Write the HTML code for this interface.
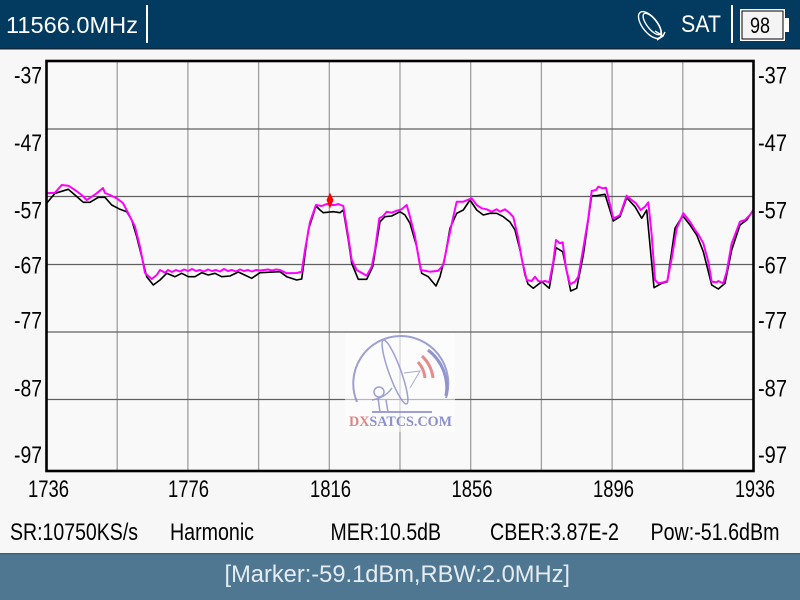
<!DOCTYPE html>
<html><head><meta charset="utf-8"><style>
html,body{margin:0;padding:0;background:#f7f7f7;}
svg{display:block;}
text{font-family:"Liberation Sans",sans-serif;}
</style></head><body>
<svg width="800" height="600" viewBox="0 0 800 600" xmlns="http://www.w3.org/2000/svg">
<rect x="0" y="0" width="800" height="600" fill="#f7f7f7"/>
<!-- header -->
<rect x="0" y="0" width="800" height="49" fill="#023a60"/>
<rect x="0" y="48" width="800" height="1.5" fill="#0d2438"/>
<text x="6" y="33" font-size="23" fill="#ffffff" textLength="132" lengthAdjust="spacingAndGlyphs">11566.0MHz</text>
<rect x="146" y="5" width="2" height="38" fill="#ffffff"/>
<!-- dish icon -->
<g fill="none" stroke="#ffffff" stroke-width="1.4">
<ellipse cx="650" cy="25" rx="7.5" ry="16" transform="rotate(-38 650 25)"/>
<ellipse cx="652" cy="24" rx="5" ry="13" transform="rotate(-38 652 24)"/>
<path d="M655 31 L663 36 L665 32 M663 36 L657 40"/>
</g>
<text x="681" y="32" font-size="24" fill="#ffffff" textLength="40" lengthAdjust="spacingAndGlyphs">SAT</text>
<rect x="731" y="5" width="2" height="38" fill="#ffffff"/>
<rect x="740" y="9" width="45" height="32" fill="#ffffff"/>
<rect x="742" y="11" width="41" height="28" fill="#f4f4f4" stroke="#000" stroke-width="1"/>
<rect x="785" y="18" width="4" height="14" fill="#ffffff"/>
<text x="750" y="33" font-size="22" fill="#000" textLength="20" lengthAdjust="spacingAndGlyphs">98</text>

<!-- plot -->
<rect x="46.5" y="61" width="707" height="410" fill="#f9f9f9"/>
<g stroke="#a0a0a0" stroke-width="1.3">
<line x1="117.2" y1="61" x2="117.2" y2="471"/>
<line x1="187.9" y1="61" x2="187.9" y2="471"/>
<line x1="258.6" y1="61" x2="258.6" y2="471"/>
<line x1="329.3" y1="61" x2="329.3" y2="471"/>
<line x1="400" y1="61" x2="400" y2="471"/>
<line x1="470.7" y1="61" x2="470.7" y2="471"/>
<line x1="541.4" y1="61" x2="541.4" y2="471"/>
<line x1="612.1" y1="61" x2="612.1" y2="471"/>
<line x1="682.8" y1="61" x2="682.8" y2="471"/>
</g>
<g stroke="#606060" stroke-width="1.2">
<line x1="46.5" y1="129" x2="753.5" y2="129"/>
<line x1="46.5" y1="196.5" x2="753.5" y2="196.5"/>
<line x1="46.5" y1="264.5" x2="753.5" y2="264.5"/>
<line x1="46.5" y1="332" x2="753.5" y2="332"/>
<line x1="46.5" y1="399.5" x2="753.5" y2="399.5"/>
</g>

<!-- watermark -->
<rect x="345" y="333" width="110" height="99" fill="#ffffff" opacity="0.55"/>
<g fill="none" opacity="0.85">
<path d="M357 402 A47.5 47.5 0 1 1 446 398" stroke="#8c90cc" stroke-width="2"/>
<path d="M428 350 A47.5 47.5 0 0 1 446 396" stroke="#7d82c8" stroke-width="3"/>
<path d="M422 356 A36 36 0 0 1 433 378" stroke="#e07878" stroke-width="3"/>
<path d="M418 362 A28 28 0 0 1 425 378" stroke="#e07878" stroke-width="3"/>
<line x1="372" y1="412" x2="432" y2="412" stroke="#8c90cc" stroke-width="2"/>
<ellipse cx="395" cy="372" rx="6" ry="34" transform="rotate(-20 395 372)" stroke="#8c90cc" stroke-width="1.5"/>
<path d="M404 373 L420 371 L410 388" stroke="#9a9ec8" stroke-width="1"/>
<circle cx="379" cy="392" r="5" stroke="#8c90cc" stroke-width="1.5"/>
<path d="M372 400 Q385 398 392 388 M378 398 L380 412 M386 400 L388 412" stroke="#8c90cc" stroke-width="1.5"/>
</g>
<text x="349" y="426" style="font-family:'Liberation Serif',serif;font-weight:bold;font-size:15px" textLength="103" lengthAdjust="spacingAndGlyphs"><tspan fill="#e08484">DX</tspan><tspan fill="#8c90d0">SATCS.COM</tspan></text>

<!-- traces -->
<defs><clipPath id="cp"><rect x="46.5" y="61" width="707" height="410"/></clipPath></defs>
<g clip-path="url(#cp)" fill="none" stroke-linejoin="round">
<polyline stroke="#000000" stroke-width="1.6" points="46.7,203.3 55,193.3 68.3,189.3 75,195 83.3,202.3 90,202.3 98.3,197.3 105,197.3 111.7,205 120,209.3 126.7,211.7 131.7,220 136.7,236.7 141.7,256.7 146.7,276.7 153.3,285 160,280 166.7,273.3 175,276.7 181.7,273.3 188.3,276.7 195,276.7 201.7,272.7 208.3,275 215,273.3 221.7,276.7 230,276 238.3,272 251.7,278.3 260,272.7 280,271.7 286.7,276.7 296.7,280 301.7,279 308.3,230 316,206 320,210 323.3,212.7 333.3,211.7 340,212.7 343.3,210 348.3,240 351.7,263.3 358.3,279.3 366.7,279.3 372.7,266.7 380,221.7 385,216.7 391.7,216 400,211.7 405,215 410,223.3 416.7,246.7 421.7,273.3 428.3,276.7 436,286 440,276.7 445,256.7 450,228.3 456.7,213.3 463.3,210 470,200 476.7,210 483.3,215 490,213.3 496.7,213.3 503.3,216.7 510,222 515,230 520,250 525,275 528,284 533.3,288.3 541.7,281.7 549.3,288.3 556,247.7 562.7,251.7 570.7,291 576.7,288.3 583.3,255 591.7,195.7 596.7,195.7 605,194.3 613.3,221 620,216.7 626.7,197.7 635,206.7 641.7,218.3 646.7,210 654,287.7 661.7,283.3 667.3,281.7 675,228.3 682.7,215.7 690,225 696.7,235 703.3,251.7 711.7,285 718.3,289 725,283.3 731.7,250 740,225 746.7,220 753.3,210"/>
<polyline stroke="#ff00ff" stroke-width="2" points="46.7,193.3 55,192.7 61.7,185 68.3,185.7 75,190 81.7,195 86.7,200 91.7,196.7 96.7,193.3 103,188 105,193 110,195 116.7,198.3 123,203 130,216.7 135,226.7 140,246.7 145,273 151.7,279 156.7,275 160,270 165,272.7 168,270 172,272 176,270 180,271.5 184,269.5 188,271 192,269 196,271 200,270 204,271.5 208,269.5 212,271 216,270 220,271.5 224,269 228,271 232,270 236,271.5 240,269.5 244,271 248,270 252,271.5 256,270 260,270.5 264,270 268,269.5 272,270.5 276,269.5 280,270 286.7,273.3 296.7,273 301.7,271.7 305,250 310,222 316,205 321.7,206 326.7,204 330,205 335,205 338.3,204 343.3,206 348.3,236.7 351.7,260 356.7,270 366.7,275.7 371.7,266.7 375,250 379.3,218.3 383.3,216 386.7,211.7 391.7,212.7 396.7,210.7 401.7,209.3 406.7,205 410,216.7 415,236.7 420.7,270 430,271.7 438.3,270.7 443.3,265 448.3,240 453.3,216.7 456.7,201.7 463.3,201.7 471.7,198.3 476.7,205 481.7,208.3 486.7,209.3 491.7,211.7 496.7,209.3 500,211.7 505,209.3 510,213.3 513.3,217 518,237 522,260 526.7,280 531.7,281 535,276.7 538.3,281 541.7,281.7 545,281 549.3,282.3 553.3,261.7 556,240 560,243.3 562.7,242.3 566,268.3 570,284.3 575,281.7 578.3,276.7 583.3,248.3 588.3,218.3 591.7,191 596,190 598.3,186.7 602.7,188.3 606,187.7 609.3,201.7 613.3,218.3 617.3,216.7 620,215 626.7,195.7 631.7,200 636,203.3 640.7,210 645,206.7 648.3,202.3 651.7,235 655,280 658.3,283.3 663.3,282.3 667.3,281 671.7,258.3 676.7,228.3 683.3,213.3 690,221.7 695,230 698.3,234.3 703.3,243.3 708.3,261.7 711.7,281.7 716.7,282.3 718.3,281 723.3,283.3 726.7,271.7 731.7,243.3 740,221.7 745,220 750,215 753.3,210"/>
</g>
<!-- marker -->
<polygon points="330,192.5 333.5,200 330,208.5 326.5,200" fill="#ff0000"/>

<rect x="46.5" y="61" width="707" height="410" fill="none" stroke="#000" stroke-width="2.6"/>

<!-- y labels -->
<g font-size="24" fill="#000">
<text x="14" y="83.5" textLength="28" lengthAdjust="spacingAndGlyphs">-37</text>
<text x="14" y="151" textLength="28" lengthAdjust="spacingAndGlyphs">-47</text>
<text x="14" y="218.5" textLength="28" lengthAdjust="spacingAndGlyphs">-57</text>
<text x="14" y="273.5" textLength="28" lengthAdjust="spacingAndGlyphs">-67</text>
<text x="14" y="328.5" textLength="28" lengthAdjust="spacingAndGlyphs">-77</text>
<text x="14" y="396.5" textLength="28" lengthAdjust="spacingAndGlyphs">-87</text>
<text x="14" y="463" textLength="28" lengthAdjust="spacingAndGlyphs">-97</text>
<text x="758" y="83.5" textLength="29" lengthAdjust="spacingAndGlyphs">-37</text>
<text x="758" y="151" textLength="29" lengthAdjust="spacingAndGlyphs">-47</text>
<text x="758" y="218.5" textLength="29" lengthAdjust="spacingAndGlyphs">-57</text>
<text x="758" y="273.5" textLength="29" lengthAdjust="spacingAndGlyphs">-67</text>
<text x="758" y="328.5" textLength="29" lengthAdjust="spacingAndGlyphs">-77</text>
<text x="758" y="396.5" textLength="29" lengthAdjust="spacingAndGlyphs">-87</text>
<text x="758" y="463" textLength="29" lengthAdjust="spacingAndGlyphs">-97</text>
<!-- x labels -->
<text x="28" y="497" textLength="41" lengthAdjust="spacingAndGlyphs">1736</text>
<text x="168" y="497" textLength="41" lengthAdjust="spacingAndGlyphs">1776</text>
<text x="310" y="497" textLength="41" lengthAdjust="spacingAndGlyphs">1816</text>
<text x="451.5" y="497" textLength="41" lengthAdjust="spacingAndGlyphs">1856</text>
<text x="593" y="497" textLength="41" lengthAdjust="spacingAndGlyphs">1896</text>
<text x="735" y="497" textLength="40" lengthAdjust="spacingAndGlyphs">1936</text>
<!-- info row -->
<text x="10" y="540" textLength="128" lengthAdjust="spacingAndGlyphs">SR:10750KS/s</text>
<text x="170" y="540" textLength="84" lengthAdjust="spacingAndGlyphs">Harmonic</text>
<text x="330.5" y="540" textLength="110.5" lengthAdjust="spacingAndGlyphs">MER:10.5dB</text>
<text x="490" y="540" textLength="129" lengthAdjust="spacingAndGlyphs">CBER:3.87E-2</text>
<text x="650.5" y="540" textLength="129" lengthAdjust="spacingAndGlyphs">Pow:-51.6dBm</text>
</g>

<!-- bottom bar -->
<rect x="0" y="553" width="800" height="47" fill="#507792"/>
<rect x="0" y="553" width="800" height="1.5" fill="#3e6078"/>
<text x="224.5" y="582" font-size="24" fill="#e6edf2" textLength="345.5" lengthAdjust="spacingAndGlyphs">[Marker:-59.1dBm,RBW:2.0MHz]</text>
</svg>
</body></html>
